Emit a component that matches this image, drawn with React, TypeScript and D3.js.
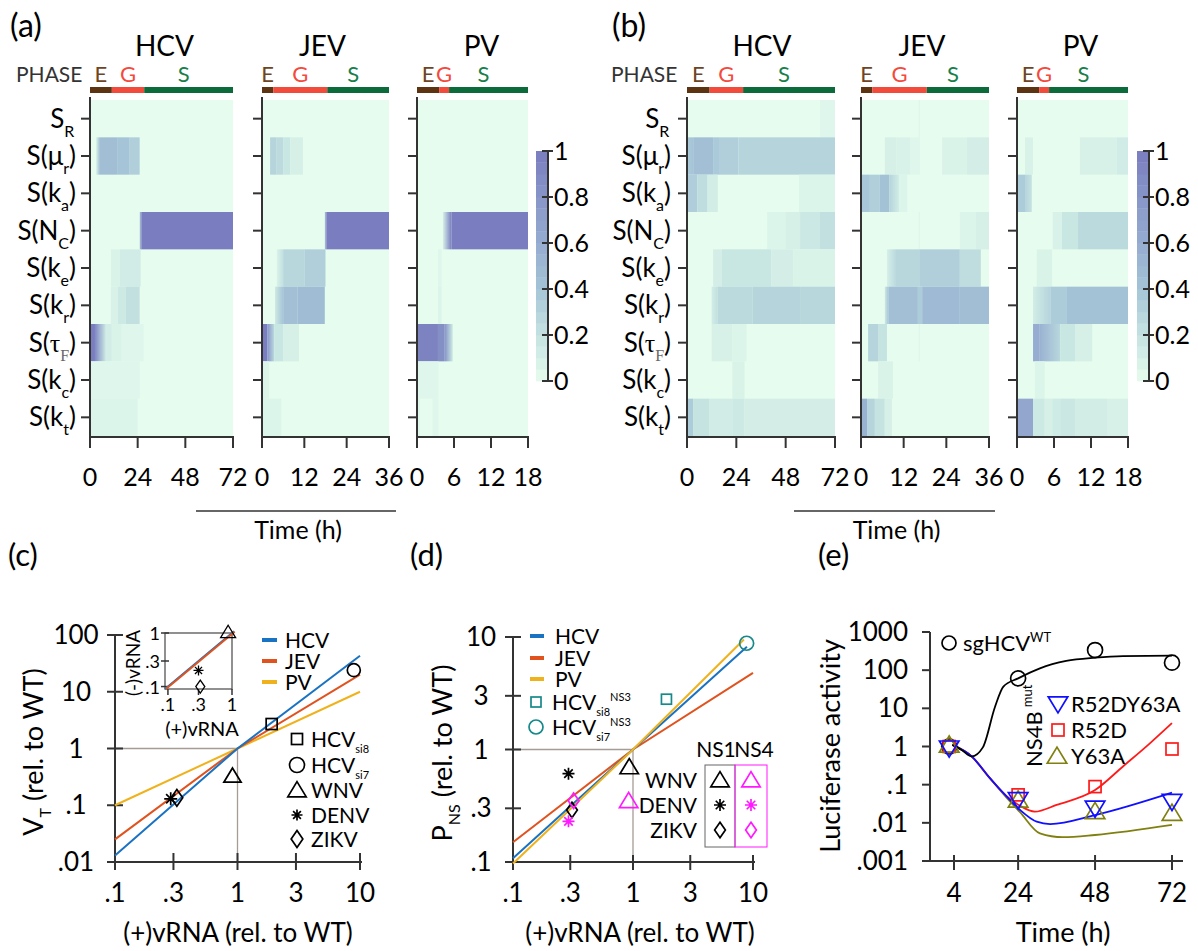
import React from "react";
import * as d3 from "d3";

type Seg = [number, number, number, number]; // t0, t1, v0, v1
type P = [number, number];

const FONT = "Lato, 'Noto Sans', 'DejaVu Sans', sans-serif";
const SERIF = "'Liberation Serif', 'DejaVu Serif', serif";

// ---------------- heatmap data ----------------
const rowLabels = [
  { sym: "S", sub: "R", paren: false, serif: false },
  { sym: "μ", sub: "r", paren: true, serif: false },
  { sym: "k", sub: "a", paren: true, serif: false },
  { sym: "N", sub: "C", paren: true, serif: false },
  { sym: "k", sub: "e", paren: true, serif: false },
  { sym: "k", sub: "r", paren: true, serif: false },
  { sym: "τ", sub: "F", paren: true, serif: true },
  { sym: "k", sub: "c", paren: true, serif: false },
  { sym: "k", sub: "t", paren: true, serif: false },
];

const phaseNames = ["E", "G", "S"];
const phaseHCV = [0, 11, 27.3, 72];
const phaseJEV = [0, 3.2, 18.5, 36];
const phasePV = [0, 3.6, 5.2, 18];

const ticksHCV = [0, 24, 48, 72];
const ticksJEV = [0, 12, 24, 36];
const ticksPV = [0, 6, 12, 18];

const aHCV: Seg[][] = [
  [],
  [[3, 5, 0.05, 0.45], [5, 14, 0.45, 0.45], [14, 20, 0.4, 0.4], [20, 25, 0.33, 0.33]],
  [],
  [[25, 26, 0.3, 1], [26, 72, 1, 1]],
  [[10.5, 15, 0.07, 0.07], [15, 25.5, 0.13, 0.13]],
  [[10.5, 14, 0.08, 0.08], [14, 18, 0.15, 0.15], [18, 25, 0.22, 0.22]],
  [[0, 2.5, 1, 1], [2.5, 8, 0.9, 0.15], [8, 11, 0.12, 0.12], [11, 16, 0.07, 0.07], [16, 27, 0.05, 0.05]],
  [[0, 25, 0.05, 0.05]],
  [[0, 24, 0.06, 0.06]],
];
const aJEV: Seg[][] = [
  [],
  [[2.3, 4, 0.3, 0.3], [4, 6, 0.25, 0.25], [6, 8, 0.18, 0.18], [8, 11.6, 0.1, 0.1]],
  [],
  [[17.8, 18.3, 0.3, 1], [18.3, 36, 1, 1]],
  [[4.2, 6, 0.08, 0.22], [6, 12, 0.28, 0.28], [12, 18, 0.33, 0.33]],
  [[3.7, 6, 0.15, 0.4], [6, 10, 0.44, 0.44], [10, 17.8, 0.47, 0.47]],
  [[0, 1.5, 1, 1], [1.5, 3.5, 0.8, 0.25], [3.5, 6, 0.18, 0.18], [6, 10.5, 0.1, 0.1]],
  [[0, 2, 0.06, 0.06]],
  [[0, 5.5, 0.06, 0.06]],
];
const aPV: Seg[][] = [
  [],
  [],
  [],
  [[4.2, 5.6, 0.1, 1], [5.6, 18, 1, 1]],
  [[3.4, 4, 0.05, 0.05]],
  [[3.4, 4, 0.06, 0.06]],
  [[0, 3.4, 0.95, 0.95], [3.4, 4.5, 0.85, 0.85], [4.5, 5.8, 0.8, 0.15]],
  [[0, 3.5, 0.05, 0.05]],
  [[0, 0.5, 0.04, 0.04], [2.5, 3.5, 0.05, 0.05]],
];
const bHCV: Seg[][] = [
  [[64.7, 72, 0.05, 0.05]],
  [[0, 3, 0.36, 0.4], [3, 12.7, 0.44, 0.44], [12.7, 16, 0.37, 0.37], [16, 25, 0.33, 0.33], [25, 72, 0.3, 0.3]],
  [[0, 5, 0.34, 0.34], [5, 10, 0.24, 0.24], [10, 15, 0.12, 0.12], [54.5, 72, 0.06, 0.06]],
  [[39, 48, 0.06, 0.06], [48, 55, 0.1, 0.1], [55, 64.7, 0.16, 0.16], [64.7, 72, 0.22, 0.22]],
  [[12.7, 17, 0.11, 0.11], [17, 41, 0.18, 0.18], [41, 51.6, 0.11, 0.11], [51.6, 72, 0.07, 0.07]],
  [[12, 15, 0.12, 0.22], [15, 32, 0.26, 0.26], [32, 55, 0.3, 0.3], [55, 72, 0.28, 0.28]],
  [[12, 22, 0.09, 0.09], [22, 29, 0.06, 0.06]],
  [[22, 28, 0.07, 0.07]],
  [[0, 3, 0.35, 0.35], [3, 11, 0.2, 0.2], [11, 22, 0.13, 0.13], [22, 28, 0.15, 0.15], [28, 72, 0.11, 0.11]],
];
const bJEV: Seg[][] = [
  [[16.2, 16.6, 0.04, 0.04]],
  [[6.7, 10, 0.1, 0.1], [10, 13.8, 0.08, 0.08], [13.8, 16.6, 0.05, 0.05], [22.8, 29.8, 0.07, 0.07], [29.8, 36, 0.11, 0.11]],
  [[0, 2.5, 0.38, 0.38], [2.5, 5.3, 0.33, 0.33], [5.3, 8, 0.42, 0.42], [8, 10.7, 0.3, 0.12], [10.7, 13, 0.06, 0.06]],
  [[16.2, 16.6, 0.04, 0.04], [27.8, 32.3, 0.06, 0.06], [32.3, 36, 0.1, 0.1]],
  [[7.3, 9.6, 0.1, 0.25], [9.6, 16.6, 0.28, 0.28], [16.6, 27.8, 0.33, 0.33], [27.8, 33.7, 0.24, 0.24]],
  [[6.7, 7.8, 0.15, 0.4], [7.8, 16, 0.44, 0.44], [16, 17.2, 0.35, 0.35], [17.2, 27.8, 0.48, 0.48], [27.8, 36, 0.45, 0.45]],
  [[2, 4.8, 0.3, 0.3], [4.8, 7.3, 0.2, 0.2], [16.2, 16.6, 0.04, 0.04]],
  [[4.8, 9, 0.07, 0.07]],
  [[0, 1.7, 0.55, 0.55], [1.7, 3.9, 0.3, 0.3], [3.9, 6.7, 0.2, 0.2], [6.7, 8.7, 0.1, 0.1]],
];
const bPV: Seg[][] = [
  [],
  [[1.3, 2.6, 0.08, 0.08], [10.2, 16.2, 0.09, 0.09], [16.2, 18, 0.13, 0.13]],
  [[0, 1.3, 0.35, 0.35], [1.3, 2.4, 0.3, 0.2]],
  [[5.8, 7.3, 0.08, 0.08], [7.3, 9.9, 0.18, 0.18], [9.9, 18, 0.26, 0.26]],
  [[3.2, 5.7, 0.07, 0.07]],
  [[2.6, 5.4, 0.12, 0.3], [5.4, 8.1, 0.35, 0.35], [8.1, 18, 0.42, 0.42]],
  [[2.6, 3.7, 0.6, 0.6], [3.7, 7, 0.55, 0.28], [7, 9.4, 0.18, 0.18], [9.4, 12.2, 0.1, 0.1]],
  [[2.9, 4.5, 0.06, 0.06]],
  [[0, 2.6, 0.65, 0.65], [2.6, 4.5, 0.15, 0.15], [4.5, 5.7, 0.1, 0.1], [5.7, 7, 0.14, 0.14], [7, 9.4, 0.17, 0.17], [9.4, 14.6, 0.12, 0.12], [14.6, 18, 0.09, 0.09]],
];

const colorVals = [0, 0.2, 0.4, 0.6, 0.8, 1];
const colorStops = ["#e6fcee", "#c5e3e1", "#a5c4d7", "#96acd0", "#8795c8", "#7a7dbf"];
const cbLabels = ["0", "0.2", "0.4", "0.6", "0.8", "1"];

const phaseBarColors = ["#5c3412", "#f24a3b", "#0b6b3b"];
const phaseTextColors = ["#6e4523", "#f4493b", "#16804a"];

// ---------------- panel (c) data ----------------
const cxTicks = [0.1, 0.3, 1, 3, 10];
const cxTickLabels = [".1", ".3", "1", "3", "10"];
const cyTicks = [0.01, 0.1, 1, 10, 100];
const cyTickLabels = [".01", ".1", "1", "10", "100"];
const cHCV: P[] = [[0.1, 0.013], [1, 1], [10, 43]];
const cJEV: P[] = [[0.1, 0.025], [1, 1], [10, 20]];
const cPV: P[] = [[0.1, 0.1], [1, 1], [10, 10]];
const cPoints: { shape: string; x: number; y: number }[] = [
  { shape: "square", x: 1.9, y: 2.7 },
  { shape: "circle", x: 8.9, y: 24 },
  { shape: "tri", x: 0.91, y: 0.33 },
  { shape: "star", x: 0.285, y: 0.13 },
  { shape: "diamond", x: 0.32, y: 0.135 },
];
const cLegendMarkers = [
  { shape: "square", name: "HCV", sub: "si8" },
  { shape: "circle", name: "HCV", sub: "si7" },
  { shape: "tri", name: "WNV", sub: "" },
  { shape: "star", name: "DENV", sub: "" },
  { shape: "diamond", name: "ZIKV", sub: "" },
];
const insetTicks = [0.1, 0.3, 1];
const insetTickLabels = [".1", ".3", "1"];
const insetHCV: P[] = [[0.09, 0.09], [1.08, 1.08]];
const insetJEV: P[] = [[0.093, 0.09], [1.1, 1.06]];
const insetPoints = [
  { shape: "tri", x: 0.87, y: 1.04 },
  { shape: "star", x: 0.3, y: 0.2 },
  { shape: "diamond", x: 0.32, y: 0.1 },
];

// ---------------- panel (d) data ----------------
const dxTicks = [0.1, 0.3, 1, 3, 10];
const dxTickLabels = [".1", ".3", "1", "3", "10"];
const dyTicks = [0.1, 0.3, 1, 3, 10];
const dyTickLabels = [".1", ".3", "1", "3", "10"];
const dHCV: P[] = [[0.1, 0.108], [1, 1], [8.9, 8.2]];
const dJEV: P[] = [[0.1, 0.15], [1, 1], [10, 4.8]];
const dPV: P[] = [[0.1, 0.097], [1, 1], [8.4, 9.5]];
const dHcvPts = [
  { shape: "square", x: 1.9, y: 2.8 },
  { shape: "circle", x: 8.85, y: 8.8 },
];
const dNS1 = [
  { shape: "tri", x: 0.93, y: 0.7 },
  { shape: "star", x: 0.29, y: 0.61 },
  { shape: "diamond", x: 0.31, y: 0.29 },
];
const dNS4 = [
  { shape: "tri", x: 0.92, y: 0.35 },
  { shape: "star", x: 0.29, y: 0.23 },
  { shape: "diamond", x: 0.32, y: 0.35 },
];
const nsVirus = ["WNV", "DENV", "ZIKV"];
const nsShapes = ["tri", "star", "diamond"];

// ---------------- panel (e) data ----------------
const eTimes = [2.5, 24, 48, 72];
const eXTicks = [4, 24, 48, 72];
const eYTicks = [0.001, 0.01, 0.1, 1, 10, 100, 1000];
const eYTickLabels = [".001", ".01", ".1", "1", "10", "100", "1000"];
const sgWT = [1, 61, 337, 157];
const r52dy63a = [0.9, 0.04, 0.024, 0.036];
const r52d = [1.0, 0.054, 0.089, 0.86];
const y63a = [1.1, 0.04, 0.02, 0.018];
const curveWT: P[] = [[3.5, 1.1], [6.5, 0.8], [9.5, 0.55], [13, 0.95], [16.8, 11], [19.4, 37], [24, 61], [30.8, 112], [39, 174], [48, 212], [56.7, 234], [72, 240]];
const curveBlue: P[] = [[3.5, 1.1], [9.5, 0.55], [15.2, 0.148], [20.4, 0.049], [24.6, 0.0217], [29.8, 0.0107], [34, 0.0093], [48, 0.016], [72, 0.062]];
const curveRed: P[] = [[3.5, 1.1], [9.5, 0.55], [15.2, 0.148], [20.4, 0.05], [24.6, 0.028], [29.2, 0.0196], [36, 0.0295], [48, 0.072], [56.7, 0.3], [65.1, 1.21], [72, 4.1]];
const curveOlive: P[] = [[3.5, 1.1], [9.5, 0.55], [15.2, 0.148], [20.4, 0.046], [24.6, 0.019], [30.8, 0.0053], [38, 0.0042], [48, 0.0048], [72, 0.0088]];

// ---------------- helpers ----------------
const cmap = d3.scaleLinear<string>().domain(colorVals).range(colorStops).clamp(true);
const HM_TOP = 100;
const HM_BOT = 436;
const AX = "#333";

const lineC = { HCV: "#1a73c2", JEV: "#e0531f", PV: "#f0b21c" };

function Marker({ shape, x, y, s, color, sw = 1.7 }: { shape: string; x: number; y: number; s: number; color: string; sw?: number }) {
  const h = s / 2;
  if (shape === "square") return <rect x={x - h} y={y - h} width={s} height={s} fill="none" stroke={color} strokeWidth={sw} />;
  if (shape === "circle") return <circle cx={x} cy={y} r={h} fill="none" stroke={color} strokeWidth={sw} />;
  if (shape === "tri")
    return <path d={`M${x},${y - h * 1.05}L${x + h * 1.15},${y + h * 0.85}L${x - h * 1.15},${y + h * 0.85}Z`} fill="none" stroke={color} strokeWidth={sw} />;
  if (shape === "triDown")
    return <path d={`M${x},${y + h * 1.05}L${x + h * 1.15},${y - h * 0.85}L${x - h * 1.15},${y - h * 0.85}Z`} fill="none" stroke={color} strokeWidth={sw} />;
  if (shape === "diamond")
    return <path d={`M${x},${y - h * 1.3}L${x + h * 0.9},${y}L${x},${y + h * 1.3}L${x - h * 0.9},${y}Z`} fill="none" stroke={color} strokeWidth={sw} />;
  // star (asterisk)
  const arms = [0, 45, 90, 135].map((a) => {
    const r = (a * Math.PI) / 180;
    return `M${x - h * Math.cos(r)},${y - h * Math.sin(r)}L${x + h * Math.cos(r)},${y + h * Math.sin(r)}`;
  });
  return <path d={arms.join("")} stroke={color} strokeWidth={sw} fill="none" />;
}

interface HMProps {
  id: string;
  x0: number;
  x1: number;
  tmax: number;
  ticks: number[];
  phases: number[];
  data: Seg[][];
  title: string;
  titleDx: number;
  labelRight: number | null;
}

function HeatPanel({ id, x0, x1, tmax, ticks, phases, data, title, titleDx, labelRight }: HMProps) {
  const x = d3.scaleLinear().domain([0, tmax]).range([x0, x1]);
  const y = d3.scaleBand<number>().domain(d3.range(rowLabels.length)).range([HM_TOP, HM_BOT]);
  const defs: React.ReactNode[] = [];
  const rects: React.ReactNode[] = [];
  data.forEach((row, r) =>
    row.forEach(([t0, t1, v0, v1], i) => {
      const gid = `${id}-${r}-${i}`;
      let fill: string;
      if (v0 === v1) fill = cmap(v0);
      else {
        defs.push(
          <linearGradient key={gid} id={gid} x1="0" x2="1" y1="0" y2="0">
            <stop offset="0" stopColor={cmap(v0)} />
            <stop offset="1" stopColor={cmap(v1)} />
          </linearGradient>
        );
        fill = `url(#${gid})`;
      }
      rects.push(<rect key={gid} x={x(t0)} y={y(r)!} width={x(t1) - x(t0)} height={y.bandwidth()} fill={fill} />);
    })
  );
  return (
    <g>
      <defs>{defs}</defs>
      <text x={(x0 + x1) / 2 + titleDx} y={56} textAnchor="middle" fontSize={28}>{title}</text>
      {phaseNames.map((p, i) => (
        <g key={p}>
          <rect x={x(phases[i])} y={87} width={x(phases[i + 1]) - x(phases[i])} height={6} fill={phaseBarColors[i]} />
          <text x={(x(phases[i]) + x(phases[i + 1])) / 2 - (i === 2 ? 5 : 0)} y={82} textAnchor="middle" fontSize={22} fill={phaseTextColors[i]}>{p}</text>
        </g>
      ))}
      <rect x={x0} y={HM_TOP} width={x1 - x0} height={HM_BOT - HM_TOP} fill={cmap(0)} />
      {rects}
      <line x1={x0} x2={x0} y1={97} y2={437} stroke={AX} strokeWidth={2} />
      <line x1={x0 - 1} x2={x1 + 1} y1={437} y2={437} stroke={AX} strokeWidth={2} />
      {rowLabels.map((_, r) => (
        <line key={r} x1={x0 - 9} x2={x0} y1={y(r)! + y.bandwidth() / 2} y2={y(r)! + y.bandwidth() / 2} stroke={AX} strokeWidth={2} />
      ))}
      {ticks.map((t) => (
        <g key={t}>
          <line x1={x(t)} x2={x(t)} y1={437} y2={448} stroke={AX} strokeWidth={2} />
          <text x={x(t)} y={486} textAnchor="middle" fontSize={25}>{t}</text>
        </g>
      ))}
      {labelRight !== null &&
        rowLabels.map((l, r) => {
          const cy = y(r)! + y.bandwidth() / 2;
          return (
            <text key={r} x={labelRight} y={cy + 9} textAnchor="end" fontSize={26}>
              {l.paren ? "S(" : ""}
              <tspan fontFamily={l.serif ? SERIF : FONT}>{l.sym}</tspan>
              <tspan dy={9} fontSize={16} fontFamily={l.serif ? SERIF : FONT} fill={l.serif ? "#666" : "#000"}>{l.sub}</tspan>
              <tspan dy={-9}>{l.paren ? ")" : "\u200a"}</tspan>
            </text>
          );
        })}
    </g>
  );
}

function ColorBar({ x }: { x: number }) {
  const y = d3.scaleLinear().domain([0, 1]).range([381, 151]);
  const n = 20;
  return (
    <g>
      {d3.range(n).map((i) => (
        <rect key={i} x={x} y={y((i + 1) / n)} width={12} height={y(i / n) - y((i + 1) / n) + 0.3} fill={cmap((i + 0.5) / n)} />
      ))}
      <line x1={x + 12} x2={x + 12} y1={151} y2={381} stroke={AX} strokeWidth={2} />
      {colorVals.map((v, i) => (
        <g key={v}>
          <line x1={x + 6} x2={x + 17} y1={y(v)} y2={y(v)} stroke={AX} strokeWidth={2} />
          <text x={x + 18} y={y(v) + 9} fontSize={25}>{cbLabels[i]}</text>
        </g>
      ))}
    </g>
  );
}

function HeatGroup({ layout, data, labelRight, cbX, timeLine }: { layout: { x0: number; x1: number; dx: number }[]; data: Seg[][][]; labelRight: number; cbX: number; timeLine: [number, number] }) {
  const titles = ["HCV", "JEV", "PV"];
  const tmaxs = [72, 36, 18];
  const ticks = [ticksHCV, ticksJEV, ticksPV];
  const phases = [phaseHCV, phaseJEV, phasePV];
  return (
    <g>
      <text x={labelRight - 60} y={82} fontSize={21} fill="#333">PHASE</text>
      {layout.map((l, i) => (
        <HeatPanel key={i} id={`hm${cbX}-${i}`} x0={l.x0} x1={l.x1} tmax={tmaxs[i]} ticks={ticks[i]} phases={phases[i]} data={data[i]} title={titles[i]} titleDx={l.dx} labelRight={i === 0 ? labelRight : null} />
      ))}
      <ColorBar x={cbX} />
      <line x1={timeLine[0]} x2={timeLine[1]} y1={511} y2={511} stroke={AX} strokeWidth={1.5} />
      <text x={(timeLine[0] + timeLine[1]) / 2 + 2} y={539} textAnchor="middle" fontSize={25}>Time (h)</text>
    </g>
  );
}

function logLine(xs: d3.ScaleLogarithmic<number, number>, ys: d3.ScaleLogarithmic<number, number>) {
  return d3.line<P>().x((d) => xs(d[0])).y((d) => ys(d[1]));
}

function PanelC() {
  const x = d3.scaleLog().domain([0.1, 10]).range([115, 360]);
  const y = d3.scaleLog().domain([0.01, 100]).range([862, 635]);
  const ln = logLine(x, y);
  const xi = d3.scaleLog().domain([0.09, 1]).range([165, 232]);
  const yi = d3.scaleLog().domain([0.09, 1]).range([689, 633]);
  const lni = logLine(xi, yi);
  const legendY = [640, 661, 682];
  const mY = [739, 765, 790, 815, 839];
  return (
    <g>
      <text x={8} y={566} fontSize={31}>(c)</text>
      <line x1={x(0.1)} x2={x(1)} y1={y(1)} y2={y(1)} stroke="#a59c96" strokeWidth={1.3} />
      <line x1={x(1)} x2={x(1)} y1={y(1)} y2={862} stroke="#a59c96" strokeWidth={1.3} />
      <line x1={115} x2={115} y1={y(100)} y2={862} stroke={AX} strokeWidth={2} />
      <line x1={107} x2={362} y1={862} y2={862} stroke={AX} strokeWidth={2} />
      {cyTicks.map((v, i) => (
        <g key={v}>
          <line x1={107} x2={123} y1={y(v)} y2={y(v)} stroke={AX} strokeWidth={2} />
          <text x={76} y={y(v) + 9} textAnchor="middle" fontSize={26}>{cyTickLabels[i]}</text>
        </g>
      ))}
      {cxTicks.map((v, i) => (
        <g key={v}>
          <line x1={x(v)} x2={x(v)} y1={853} y2={870} stroke={AX} strokeWidth={2} />
          <text x={x(v)} y={902} textAnchor="middle" fontSize={26}>{cxTickLabels[i]}</text>
        </g>
      ))}
      <path d={ln(cPV)!} fill="none" stroke={lineC.PV} strokeWidth={2} />
      <path d={ln(cJEV)!} fill="none" stroke={lineC.JEV} strokeWidth={2} />
      <path d={ln(cHCV)!} fill="none" stroke={lineC.HCV} strokeWidth={2} />
      {cPoints.map((p, i) => (
        <Marker key={i} shape={p.shape} x={x(p.x)} y={y(p.y)} s={p.shape === "square" ? 11 : p.shape === "circle" ? 13 : p.shape === "tri" ? 15 : 13} color="#000" />
      ))}
      {/* legend */}
      {(["HCV", "JEV", "PV"] as const).map((k, i) => (
        <g key={k}>
          <line x1={262} x2={277} y1={legendY[i]} y2={legendY[i]} stroke={lineC[k]} strokeWidth={4} />
          <text x={285} y={legendY[i] + 8} fontSize={21}>{k}</text>
        </g>
      ))}
      {cLegendMarkers.map((m, i) => (
        <g key={i}>
          <Marker shape={m.shape} x={297} y={mY[i]} s={m.shape === "circle" ? 15 : m.shape === "tri" ? 16 : m.shape === "diamond" ? 13 : 11} color="#000" />
          <text x={311} y={mY[i] + 8} fontSize={21}>
            {m.name}
            {m.sub && <tspan dy={6} fontSize={11}>{m.sub}</tspan>}
          </text>
        </g>
      ))}
      {/* inset */}
      <rect x={165} y={633} width={67} height={56} fill="none" stroke="#555" strokeWidth={1.3} />
      {insetTicks.map((v, i) => (
        <g key={v}>
          <line x1={161} x2={169} y1={yi(v)} y2={yi(v)} stroke={AX} strokeWidth={1.5} />
          <text x={160} y={yi(v) + 7} textAnchor="end" fontSize={18}>{insetTickLabels[i]}</text>
          <line x1={xi(v)} x2={xi(v)} y1={689} y2={695} stroke={AX} strokeWidth={1.5} />
          <text x={xi(v)} y={711} textAnchor="middle" fontSize={18}>{insetTickLabels[i]}</text>
        </g>
      ))}
      <path d={lni(insetHCV)!} fill="none" stroke={lineC.HCV} strokeWidth={2} />
      <path d={lni(insetJEV)!} fill="none" stroke={lineC.JEV} strokeWidth={2} />
      {insetPoints.map((p, i) => (
        <Marker key={i} shape={p.shape} x={xi(p.x)} y={yi(p.y)} s={p.shape === "tri" ? 13 : 10} color="#000" sw={1.3} />
      ))}
      <text x={202} y={736} textAnchor="middle" fontSize={20}>(+)vRNA</text>
      <text transform="translate(140,663) rotate(-90)" textAnchor="middle" fontSize={19}>(-)vRNA</text>
      {/* axis labels */}
      <text x={238} y={942} textAnchor="middle" fontSize={26}>(+)vRNA (rel. to WT)</text>
      <text transform="translate(43,752) rotate(-90)" textAnchor="middle" fontSize={27}>
        V<tspan dy={8} fontSize={16}>T</tspan>
        <tspan dy={-8}> (rel. to WT)</tspan>
      </text>
    </g>
  );
}

function PanelD() {
  const x = d3.scaleLog().domain([0.1, 10]).range([513, 753]);
  const y = d3.scaleLog().domain([0.1, 10]).range([862, 637]);
  const ln = logLine(x, y);
  const legendY = [636, 658, 679];
  const teal = "#17898a";
  const mag = "#ff19ff";
  const rowY = [780, 805, 830];
  return (
    <g>
      <text x={410} y={566} fontSize={31}>(d)</text>
      <line x1={x(0.1)} x2={x(1)} y1={y(1)} y2={y(1)} stroke="#a59c96" strokeWidth={1.3} />
      <line x1={x(1)} x2={x(1)} y1={y(1)} y2={862} stroke="#a59c96" strokeWidth={1.3} />
      <line x1={513} x2={513} y1={y(10)} y2={862} stroke={AX} strokeWidth={2} />
      <line x1={505} x2={755} y1={862} y2={862} stroke={AX} strokeWidth={2} />
      {dyTicks.map((v, i) => (
        <g key={v}>
          <line x1={505} x2={521} y1={y(v)} y2={y(v)} stroke={AX} strokeWidth={2} />
          <text x={481} y={y(v) + 9} textAnchor="middle" fontSize={26}>{dyTickLabels[i]}</text>
        </g>
      ))}
      {dxTicks.map((v, i) => (
        <g key={v}>
          <line x1={x(v)} x2={x(v)} y1={855} y2={870} stroke={AX} strokeWidth={2} />
          <text x={x(v)} y={902} textAnchor="middle" fontSize={26}>{dxTickLabels[i]}</text>
        </g>
      ))}
      <path d={ln(dJEV)!} fill="none" stroke={lineC.JEV} strokeWidth={2} />
      <path d={ln(dHCV)!} fill="none" stroke={lineC.HCV} strokeWidth={2} />
      <path d={ln(dPV)!} fill="none" stroke={lineC.PV} strokeWidth={2} />
      {dHcvPts.map((p, i) => (
        <Marker key={i} shape={p.shape} x={x(p.x)} y={y(p.y)} s={p.shape === "circle" ? 14 : 10} color={teal} />
      ))}
      {dNS1.map((p, i) => (
        <Marker key={i} shape={p.shape} x={x(p.x)} y={y(p.y)} s={p.shape === "tri" ? 16 : 12} color="#000" />
      ))}
      {dNS4.map((p, i) => (
        <Marker key={i} shape={p.shape} x={x(p.x)} y={y(p.y)} s={p.shape === "tri" ? 16 : 12} color={mag} />
      ))}
      {(["HCV", "JEV", "PV"] as const).map((k, i) => (
        <g key={k}>
          <line x1={530} x2={544} y1={legendY[i]} y2={legendY[i]} stroke={lineC[k]} strokeWidth={4} />
          <text x={555} y={legendY[i] + 8} fontSize={21}>{k}</text>
        </g>
      ))}
      <Marker shape="square" x={536} y={702} s={10} color={teal} />
      <Marker shape="circle" x={536} y={727} s={14} color={teal} />
      {["si8", "si7"].map((s, i) => (
        <text key={s} x={552} y={710 + i * 25} fontSize={21}>
          HCV<tspan dy={6} fontSize={11}>{s}</tspan>
          <tspan dy={-15} fontSize={11}>NS3</tspan>
        </text>
      ))}
      <text x={716} y={757} textAnchor="middle" fontSize={21}>NS1</text>
      <text x={754} y={757} textAnchor="middle" fontSize={21}>NS4</text>
      <rect x={705} y={765} width={30} height={82} fill="none" stroke="#666" strokeWidth={1} />
      <rect x={735} y={765} width={32} height={82} fill="none" stroke={mag} strokeWidth={1} />
      {nsVirus.map((v, i) => (
        <g key={v}>
          <text x={697} y={rowY[i] + 8} textAnchor="end" fontSize={21}>{v}</text>
          <Marker shape={nsShapes[i]} x={720} y={rowY[i]} s={nsShapes[i] === "tri" ? 16 : 12} color="#000" />
          <Marker shape={nsShapes[i]} x={751} y={rowY[i]} s={nsShapes[i] === "tri" ? 16 : 12} color={mag} />
        </g>
      ))}
      <text x={640} y={942} textAnchor="middle" fontSize={26}>(+)vRNA (rel. to WT)</text>
      <text transform="translate(452,753) rotate(-90)" textAnchor="middle" fontSize={27}>
        P<tspan dy={8} fontSize={16}>NS</tspan>
        <tspan dy={-8}> (rel. to WT)</tspan>
      </text>
    </g>
  );
}

function PanelE() {
  const x = d3.scaleLinear().domain([4, 72]).range([954, 1172]);
  const y = d3.scaleLog().domain([0.001, 1000]).range([861, 632]);
  const ln = d3.line<P>().x((d) => x(d[0])).y((d) => y(d[1])).curve(d3.curveMonotoneX);
  const blue = "#1010ff";
  const red = "#ff1a1a";
  const olive = "#808010";
  return (
    <g>
      <text x={818} y={566} fontSize={31}>(e)</text>
      <line x1={930} x2={930} y1={632} y2={861} stroke={AX} strokeWidth={2} />
      <line x1={930} x2={1183} y1={861} y2={861} stroke={AX} strokeWidth={2} />
      {eYTicks.map((v, i) => (
        <g key={v}>
          <line x1={922} x2={930} y1={y(v)} y2={y(v)} stroke={AX} strokeWidth={2} />
          <text x={908} y={y(v) + 9} textAnchor="end" fontSize={26}>{eYTickLabels[i]}</text>
        </g>
      ))}
      {eXTicks.map((v) => (
        <g key={v}>
          <line x1={x(v)} x2={x(v)} y1={855} y2={870} stroke={AX} strokeWidth={2} />
          <text x={x(v)} y={902} textAnchor="middle" fontSize={26}>{v}</text>
        </g>
      ))}
      <path d={ln(curveOlive)!} fill="none" stroke={olive} strokeWidth={1.8} />
      <path d={ln(curveRed)!} fill="none" stroke={red} strokeWidth={1.8} />
      <path d={ln(curveBlue)!} fill="none" stroke={blue} strokeWidth={1.8} />
      <path d={ln(curveWT)!} fill="none" stroke="#000" strokeWidth={1.8} />
      {eTimes.map((t, i) => (
        <g key={t}>
          <Marker shape="circle" x={x(t)} y={y(sgWT[i])} s={15} color="#000" />
          <Marker shape="square" x={x(t)} y={y(r52d[i])} s={12} color={red} />
          <Marker shape="tri" x={x(t)} y={y(y63a[i])} s={17} color={olive} />
          <Marker shape="triDown" x={x(t)} y={y(r52dy63a[i])} s={17} color={blue} />
        </g>
      ))}
      <Marker shape="circle" x={949} y={643} s={14} color="#000" />
      <text x={963} y={651} fontSize={22}>
        sgHCV<tspan dy={-9} fontSize={13}>WT</tspan>
      </text>
      <text transform="translate(1042,767) rotate(-90)" fontSize={22}>
        NS4B<tspan dx={4} dy={-10} fontSize={13}>mut</tspan>
      </text>
      <Marker shape="triDown" x={1058} y={704} s={17} color={blue} />
      <Marker shape="square" x={1058} y={730} s={12} color={red} />
      <Marker shape="tri" x={1057} y={756} s={17} color={olive} />
      <text x={1071} y={712} fontSize={22}>R52DY63A</text>
      <text x={1071} y={738} fontSize={22}>R52D</text>
      <text x={1071} y={764} fontSize={22}>Y63A</text>
      <text x={1063} y={942} textAnchor="middle" fontSize={27}>Time (h)</text>
      <text transform="translate(840,746) rotate(-90)" textAnchor="middle" fontSize={27}>Luciferase activity</text>
    </g>
  );
}

export default function App() {
  const layoutA = [
    { x0: 90, x1: 233, dx: 3 },
    { x0: 262, x1: 389, dx: -3 },
    { x0: 417, x1: 528, dx: 9 },
  ];
  const layoutB = [
    { x0: 687, x1: 835, dx: 1 },
    { x0: 861, x1: 989, dx: -3 },
    { x0: 1017, x1: 1128, dx: 8 },
  ];
  return (
    <div style={{ position: "fixed", left: 0, top: 0, width: 1198, height: 951, overflow: "hidden", background: "#fff" }}>
      <svg width={1198} height={951} fontFamily={FONT} style={{ display: "block" }}>
        <text x={10} y={37} fontSize={32}>(a)</text>
        <text x={612} y={37} fontSize={32}>(b)</text>
        <HeatGroup layout={layoutA} data={[aHCV, aJEV, aPV]} labelRight={76} cbX={536} timeLine={[196, 396]} />
        <HeatGroup layout={layoutB} data={[bHCV, bJEV, bPV]} labelRight={671} cbX={1137} timeLine={[794, 995]} />
        <PanelC />
        <PanelD />
        <PanelE />
      </svg>
    </div>
  );
}
